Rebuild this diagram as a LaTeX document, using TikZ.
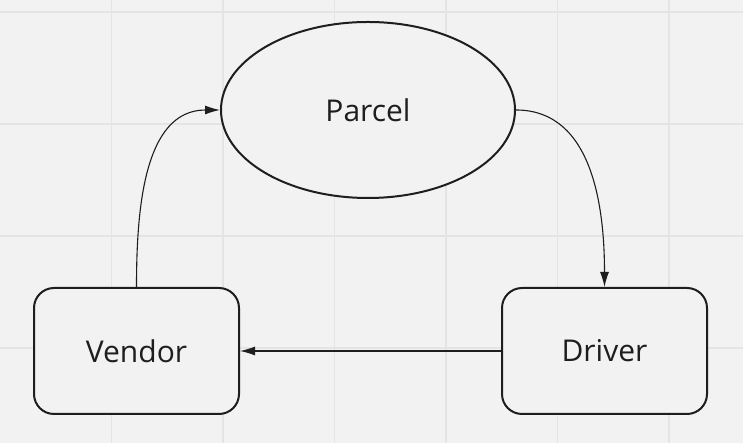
\documentclass[tikz,border=0pt]{standalone}
\usepackage{fontspec}
\setmainfont{Open Sans}
\usepackage{tikz}
\usetikzlibrary{shapes.geometric,arrows.meta}
\definecolor{bgcol}{HTML}{F2F2F2}
\definecolor{gridcol}{HTML}{E4E4E4}
\definecolor{inkcol}{HTML}{1E1E1E}
\tikzstyle{boxnode}=[rectangle,rounded corners=20pt,draw=inkcol,line width=2pt,
                     fill=bgcol,minimum width=205pt,minimum height=126pt,
                     font=\fontsize{30}{34}\selectfont,text=inkcol]
\tikzstyle{ovalnode}=[ellipse,draw=inkcol,line width=2pt,fill=bgcol,
                      minimum width=294pt,minimum height=176pt,
                      font=\fontsize{30}{34}\selectfont,text=inkcol]
\tikzstyle{conn}=[draw=inkcol,line width=1.1pt,
                  -{Latex[length=15pt,width=9pt]}]

\begin{document}
\begin{tikzpicture}[x=1pt,y=1pt]
    \fill[bgcol] (0,0) rectangle (743,443);
    \useasboundingbox (0,0) rectangle (743,443);
    % grid
    \foreach \i in {1,...,6}
      \draw[gridcol,line width=1.2pt] (111.5*\i,0) -- (111.5*\i,443);
    \foreach \j in {0,...,3}
      \draw[gridcol,line width=1.2pt] (0,431-112*\j) -- (743,431-112*\j);
    \node (parcel) at (368,333) [ovalnode]{Parcel};
    \node (vendor) at (136.5,92) [boxnode]{Vendor};
    \node (driver) at (604.5,92) [boxnode]{Driver};
    \draw[conn] (vendor.north) to[out=90,in=180] (parcel.west);
    \draw[conn] (parcel.east) to[out=0,in=90] (driver.north);
    \draw[conn] (driver.west) -- (vendor.east);
\end{tikzpicture}
\end{document}
